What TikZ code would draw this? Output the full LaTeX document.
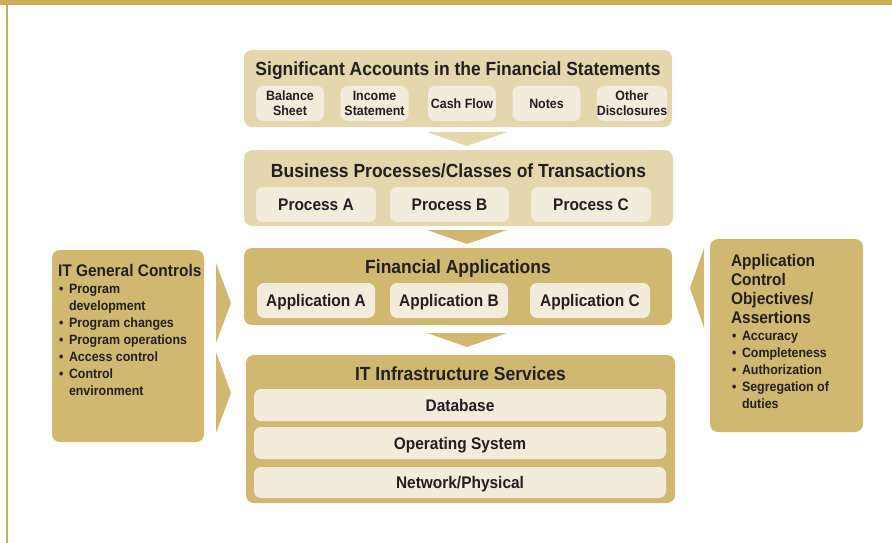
\documentclass[tikz,border=0pt]{standalone}
\usepackage{fontspec}
\setmainfont{Liberation Sans}[FakeStretch=0.92]
\definecolor{gold}{HTML}{C9AE57}
\definecolor{lightbox}{HTML}{E4D6AD}
\definecolor{palebox}{HTML}{F3EBDC}
\definecolor{darkbox}{HTML}{D1B870}
\definecolor{ink}{HTML}{231F20}
\tikzset{
  lightouter/.style={fill=lightbox, rounded corners=8pt},
  darkouter/.style={fill=darkbox, rounded corners=8pt},
  inner/.style={fill=palebox, rounded corners=7pt},
  ttl/.style={anchor=base, font=\bfseries\fontsize{19}{22}\selectfont},
  lbl/.style={inner, font=\bfseries\fontsize{16.8}{20}\selectfont, text height=12pt, text depth=0pt},
  smalllbl/.style={inner, font=\bfseries\fontsize{13.5}{15}\selectfont, align=center},
  sidettl/.style={anchor=base west, font=\bfseries\fontsize{16.8}{19}\selectfont},
  bul/.style={anchor=base west, font=\bfseries\fontsize{13.5}{17}\selectfont},
}
\begin{document}
\begin{tikzpicture}[x=1pt,y=-1pt, every node/.style={inner sep=0pt, outer sep=0pt, text=ink}]
\useasboundingbox (0,0) rectangle (892,543);
% frame
\fill[gold] (0,0) rectangle (892,5);
\fill[gold] (6,0) rectangle (8.2,543);

% tier 1
\node[lightouter, minimum width=428pt, minimum height=77pt] (sig) at (458,88.5) {};
\node[ttl] (sigt) at (458,76) {Significant Accounts in the Financial Statements};
\node[smalllbl, minimum width=68pt, minimum height=35pt] (bs) at (290,103.5) {Balance\\Sheet};
\node[smalllbl, minimum width=68pt, minimum height=35pt] (is) at (374.5,103.5) {Income\\Statement};
\node[smalllbl, minimum width=68pt, minimum height=35pt] (cf) at (462,103.5) {Cash Flow};
\node[smalllbl, minimum width=68pt, minimum height=35pt] (nt) at (546.5,103.5) {Notes};
\node[smalllbl, minimum width=68pt, minimum height=35pt] (od) at (632,103.5) {Other\\Disclosures};

\fill[lightbox] (427,132) -- (507,132) -- (467,146) -- cycle;

% tier 2
\node[lightouter, minimum width=429pt, minimum height=76pt] (bp) at (458.5,188) {};
\node[ttl] (bpt) at (458.5,177) {Business Processes/Classes of Transactions};
\node[lbl, minimum width=120pt, minimum height=35pt] (pa) at (316,204.5) {Process A};
\node[lbl, minimum width=119pt, minimum height=35pt] (pb) at (449.5,204.5) {Process B};
\node[lbl, minimum width=120pt, minimum height=35pt] (pc) at (591,204.5) {Process C};

\fill[darkbox] (427,230) -- (507,230) -- (467,244) -- cycle;

% tier 3
\node[darkouter, minimum width=428pt, minimum height=77pt] (fa) at (458,286.5) {};
\node[ttl] (fat) at (458,273.5) {Financial Applications};
\node[lbl, minimum width=118pt, minimum height=35pt] (aa) at (316,300.5) {Application A};
\node[lbl, minimum width=118pt, minimum height=35pt] (ab) at (449,300.5) {Application B};
\node[lbl, minimum width=120pt, minimum height=35pt] (ac) at (590,300.5) {Application C};

\fill[darkbox] (427,333) -- (507,333) -- (467,347) -- cycle;

% tier 4
\node[darkouter, minimum width=429pt, minimum height=148pt] (it) at (460.5,429) {};
\node[ttl] (itt) at (460.5,380.5) {IT Infrastructure Services};
\node[lbl, minimum width=412pt, minimum height=32pt] (db) at (460,405) {Database};
\node[lbl, minimum width=412pt, minimum height=32pt] (os) at (460,443) {Operating System};
\node[lbl, minimum width=412pt, minimum height=31pt] (np) at (460,482.5) {Network/Physical};

% left box
\node[darkouter, minimum width=152pt, minimum height=192pt] (gc) at (128,346) {};
\node[sidettl] (gct) at (58,276) {IT General Controls};
\node[bul] (g1b) at (59,293.5) {•};
\node[bul] (g1) at (69,293.5) {Program};
\node[bul] (g1c) at (69,310.5) {development};
\node[bul] (g2b) at (59,327.5) {•};
\node[bul] (g2) at (69,327.5) {Program changes};
\node[bul] (g3b) at (59,344.5) {•};
\node[bul] (g3) at (69,344.5) {Program operations};
\node[bul] (g4b) at (59,361.5) {•};
\node[bul] (g4) at (69,361.5) {Access control};
\node[bul] (g5b) at (59,378.5) {•};
\node[bul] (g5) at (69,378.5) {Control};
\node[bul] (g5c) at (69,395.5) {environment};

\fill[darkbox] (216,263) -- (231,303) -- (216,343) -- cycle;
\fill[darkbox] (216,352) -- (231,393) -- (216,433) -- cycle;

% right box
\node[darkouter, minimum width=153pt, minimum height=193pt] (ac2) at (786.5,335.5) {};
\node[sidettl] (act1) at (731,266) {Application};
\node[sidettl] (act2) at (731,285) {Control};
\node[sidettl] (act3) at (731,304) {Objectives/};
\node[sidettl] (act4) at (731,323) {Assertions};
\node[bul] (r1b) at (732,340) {•};
\node[bul] (r1) at (742,340) {Accuracy};
\node[bul] (r2b) at (732,357) {•};
\node[bul] (r2) at (742,357) {Completeness};
\node[bul] (r3b) at (732,374) {•};
\node[bul] (r3) at (742,374) {Authorization};
\node[bul] (r4b) at (732,391) {•};
\node[bul] (r4) at (742,391) {Segregation of};
\node[bul] (r4c) at (742,408) {duties};

\fill[darkbox] (704,248) -- (690,288) -- (704,328) -- cycle;
\end{tikzpicture}
\end{document}
